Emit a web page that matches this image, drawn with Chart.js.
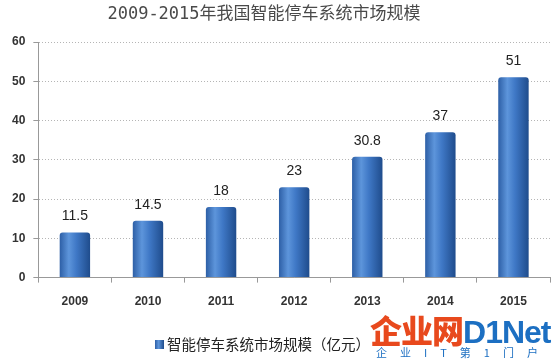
<!DOCTYPE html>
<html>
<head>
<meta charset="utf-8">
<script src="https://cdn.jsdelivr.net/npm/chart.js@4.4.0/dist/chart.umd.min.js"></script>
<style>
  html, body { margin: 0; padding: 0; background: #fff; }
  #wrap { position: relative; width: 552px; height: 359px; }
  .logo { position: absolute; left: 370px; top: 313px; font-family: "Noto Sans CJK SC", sans-serif; font-weight: 900; font-size: 32px; line-height: 33px; letter-spacing: -1px; white-space: nowrap; }
  .logo .r { color: #e8491d; }
  .logo .b { color: #1c6fc2; font-family: "Liberation Sans", Arial, sans-serif; font-weight: bold; }
  .slogan { position: absolute; left: 376px; top: 346px; font-family: "Noto Sans CJK SC", sans-serif; font-size: 11px; line-height: 13px; color: #1c6fc2; letter-spacing: 13px; white-space: nowrap; }
</style>
</head>
<body>
<div id="wrap">
  <canvas id="chart" width="552" height="359"></canvas>
  <div class="logo"><span class="r">企业网</span><span class="b">D1Net</span></div>
  <div class="slogan">企业IT第1门户</div>
</div>
<script>
const years = ['2009', '2010', '2011', '2012', '2013', '2014', '2015'];
const marketSize = [11.5, 14.5, 18, 23, 30.8, 37, 51];
const yTicks = [0, 10, 20, 30, 40, 50, 60];
const titleText = '2009-2015年我国智能停车系统市场规模';
const legendText = '智能停车系统市场规模（亿元）';

const CAT_PCT = 0.8, BAR_PCT = 0.52;

function barGradient(ctx, x, w) {
    const g = ctx.createLinearGradient(x - w / 2, 0, x + w / 2, 0);
    g.addColorStop(0, '#2d5fa6');
    g.addColorStop(0.3, '#5d95db');
    g.addColorStop(0.55, '#3f78c6');
    g.addColorStop(1, '#1f4c8c');
    return g;
}

// value labels, title and legend drawn onto the canvas
const extras = {
    id: 'extras',
    afterDatasetsDraw(chart) {
        const { ctx } = chart;
        const meta = chart.getDatasetMeta(0);
        ctx.save();
        ctx.font = '14px "Liberation Sans", Arial, sans-serif';
        ctx.fillStyle = '#222';
        ctx.textAlign = 'center';
        ctx.textBaseline = 'bottom';
        meta.data.forEach((bar, i) => {
            ctx.fillText(String(marketSize[i]), bar.x, bar.y - 9);
        });

        // title
        ctx.font = '17px "DejaVu Sans Mono", "Noto Sans CJK SC", monospace';
        ctx.fillStyle = '#4a4a4a';
        ctx.textBaseline = 'middle';
        ctx.fillText(titleText, 264, 15);

        // legend
        ctx.font = '14.5px "Noto Sans CJK SC", sans-serif';
        ctx.textAlign = 'left';
        ctx.fillStyle = '#222';
        ctx.fillText(legendText, 167, 344);
        const g = ctx.createLinearGradient(155, 0, 164, 0);
        g.addColorStop(0, '#2d5fa6');
        g.addColorStop(0.4, '#5d95db');
        g.addColorStop(1, '#1f4c8c');
        ctx.fillStyle = g;
        ctx.fillRect(155, 340, 9, 9);
        ctx.restore();
    }
};

new Chart(document.getElementById('chart'), {
    type: 'bar',
    data: {
        labels: years,
        datasets: [{
            label: legendText,
            data: marketSize,
            categoryPercentage: CAT_PCT,
            barPercentage: BAR_PCT,
            borderRadius: { topLeft: 3, topRight: 3 },
            borderSkipped: false,
            backgroundColor: function(context) {
                const chart = context.chart;
                const area = chart.chartArea;
                if (!area || context.dataIndex === undefined) return '#3a73c4';
                const x = chart.scales.x.getPixelForValue(context.dataIndex);
                const w = (area.right - area.left) / years.length * CAT_PCT * BAR_PCT;
                return barGradient(chart.ctx, x, w);
            }
        }]
    },
    options: {
        responsive: false,
        animation: false,
        layout: { padding: { left: 4, right: 2, top: 42, bottom: 38 } },
        plugins: {
            title: { display: false },
            legend: { display: false },
            tooltip: { enabled: false }
        },
        scales: {
            x: {
                grid: { drawOnChartArea: false, drawTicks: true, tickLength: 5, color: '#999', offset: true },
                border: { color: '#999' },
                ticks: {
                    color: '#333',
                    padding: 12,
                    font: { family: '"Liberation Sans", Arial, sans-serif', size: 12, weight: 'bold' }
                }
            },
            y: {
                min: 0,
                max: 60,
                afterBuildTicks(axis) { axis.ticks = yTicks.map(v => ({ value: v })); },
                grid: { color: '#b5b5b5', tickColor: '#999', tickLength: 5, tickBorderDash: [] },
                border: { color: '#999', dash: [1, 2] },
                ticks: {
                    color: '#333',
                    padding: 8,
                    font: { family: '"Liberation Sans", Arial, sans-serif', size: 12, weight: 'bold' }
                }
            }
        }
    },
    plugins: [extras]
});
</script>
</body>
</html>
